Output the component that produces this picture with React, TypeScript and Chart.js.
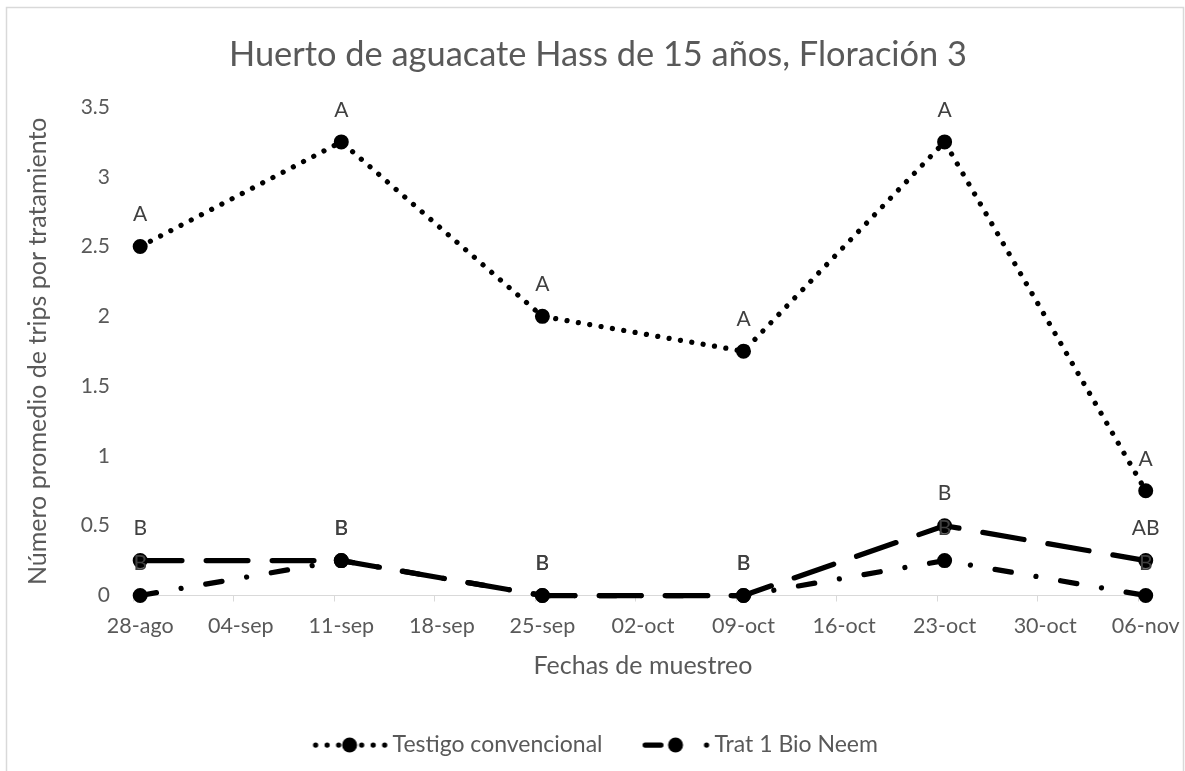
import React, { useEffect, useRef } from 'react';
import { Chart, registerables } from 'chart.js';

Chart.register(...registerables);

// ---------- data ----------
const chartTitle = 'Huerto de aguacate Hass de 15 años, Floración 3';
const xAxisTitle = 'Fechas de muestreo';
const yAxisTitle = 'Número promedio de trips por tratamiento';

const sampleDates = ['28-ago', '11-sep', '25-sep', '09-oct', '23-oct', '06-nov'];
const sampleDay = [0, 14, 28, 42, 56, 70]; // días desde el 28-ago
const xTickLabels = ['28-ago', '04-sep', '11-sep', '18-sep', '25-sep', '02-oct', '09-oct', '16-oct', '23-oct', '30-oct', '06-nov'];
const tickStepDays = 7;

const testigoName = 'Testigo convencional';
const testigoValues = [2.5, 3.25, 2, 1.75, 3.25, 0.75];
const testigoLetters = ['A', 'A', 'A', 'A', 'A', 'A'];

const bioNeemName = 'Trat 1 Bio Neem';
const bioNeemValues = [0, 0.25, 0, 0, 0.25, 0];
const bioNeemLetters = ['B', 'B', 'B', 'B', 'B', 'B'];

const trat2Name = 'Trat 2';
const trat2Values = [0.25, 0.25, 0, 0, 0.5, 0.25];
const trat2Letters = ['B', 'B', 'B', 'B', 'B', 'AB'];

const yMin = 0;
const yMax = 3.5;
const yStep = 0.5;

// ---------- style ----------
const FONT = 'Lato, "Open Sans", sans-serif';
const TEXT = '#595959';
const AXIS = '#d9d9d9';
const LW = 5.25;
const DOT = [0.01, 11.5];
const LONG_DASH = [41.75, 24.25];
const DASH_DOT = [16.5, 25, 0.01, 25];

function toPoints(values: number[]) {
  return sampleDay.map((d, i) => ({ x: d, y: values[i] }));
}

function makeLegendImage(kind: 'dot' | 'dashdot') {
  const c = document.createElement('canvas');
  c.width = 80;
  c.height = 24;
  const ctx = c.getContext('2d')!;
  ctx.strokeStyle = '#000';
  ctx.fillStyle = '#000';
  ctx.lineWidth = LW;
  ctx.lineCap = 'round';
  if (kind === 'dot') {
    ctx.setLineDash(DOT);
    ctx.beginPath();
    ctx.moveTo(6, 12);
    ctx.lineTo(76, 12);
    ctx.stroke();
    ctx.setLineDash([]);
    ctx.beginPath();
    ctx.arc(40, 12, 7.5, 0, Math.PI * 2);
    ctx.fill();
  } else {
    ctx.beginPath();
    ctx.moveTo(13.6, 12);
    ctx.lineTo(29.4, 12);
    ctx.stroke();
    ctx.beginPath();
    ctx.arc(44, 12, 7.5, 0, Math.PI * 2);
    ctx.fill();
    ctx.beginPath();
    ctx.arc(75, 12, LW / 2, 0, Math.PI * 2);
    ctx.fill();
  }
  return c;
}

const pagePlugin = {
  id: 'pageBox',
  beforeDraw(chart: any) {
    const ctx = chart.ctx;
    ctx.save();
    ctx.fillStyle = '#ffffff';
    ctx.fillRect(0, 0, chart.width, chart.height);
    ctx.strokeStyle = AXIS;
    ctx.lineWidth = 1.5;
    ctx.strokeRect(6.5, 7.5, 1177, 800);
    ctx.restore();
  },
};

const letterPlugin = {
  id: 'letters',
  afterDatasetsDraw(chart: any) {
    const ctx = chart.ctx;
    ctx.save();
    ctx.font = `21px ${FONT}`;
    ctx.fillStyle = '#404040';
    ctx.textAlign = 'center';
    ctx.textBaseline = 'middle';
    chart.data.datasets.forEach((ds: any, di: number) => {
      const meta = chart.getDatasetMeta(di);
      meta.data.forEach((el: any, i: number) => {
        ctx.fillText(ds.letters[i], el.x, el.y - 32);
      });
    });
    ctx.restore();
  },
};

export default function App() {
  const ref = useRef<HTMLCanvasElement>(null);

  useEffect(() => {
    if (!ref.current) return;
    const common = {
      borderColor: '#000',
      backgroundColor: '#000',
      borderWidth: LW,
      borderCapStyle: 'round',
      borderJoinStyle: 'round',
      pointRadius: 6,
      pointHoverRadius: 6,
      pointBorderWidth: 3,
      pointBackgroundColor: '#000',
      pointBorderColor: '#000',
      tension: 0,
      clip: false,
    };
    const imgDot = makeLegendImage('dot');
    const imgDashDot = makeLegendImage('dashdot');

    const chart = new Chart(ref.current, {
      type: 'line',
      data: {
        datasets: [
          { ...common, label: testigoName, data: toPoints(testigoValues), borderDash: DOT, letters: testigoLetters },
          { ...common, label: bioNeemName, data: toPoints(bioNeemValues), borderDash: DASH_DOT, letters: bioNeemLetters },
          { ...common, label: trat2Name, data: toPoints(trat2Values), borderDash: LONG_DASH, letters: trat2Letters },
        ] as any,
      },
      options: {
        animation: false,
        responsive: false,
        maintainAspectRatio: false,
        events: [],
        layout: { padding: { top: 0, left: 11, right: 0, bottom: 4.5 } },
        plugins: {
          title: {
            display: true,
            text: chartTitle,
            color: TEXT,
            font: { family: FONT, size: 34.4, weight: 'normal' },
            padding: { top: 34.36, bottom: 31.36 },
          },
          legend: {
            display: true,
            position: 'bottom',
            labels: {
              usePointStyle: true,
              pointStyleWidth: 63,
              padding: 37.5,
              color: TEXT,
              font: { family: FONT, size: 23 },
              generateLabels: () => [
                { text: testigoName, pointStyle: imgDot, fillStyle: '#000', strokeStyle: '#000', lineWidth: 0, hidden: false, datasetIndex: 0, fontColor: TEXT },
                { text: bioNeemName, pointStyle: imgDashDot, fillStyle: '#000', strokeStyle: '#000', lineWidth: 0, hidden: false, datasetIndex: 1, fontColor: TEXT },
              ],
            },
          },
          tooltip: { enabled: false },
        },
        scales: {
          x: {
            type: 'linear',
            min: sampleDay[0] - 0.5,
            max: sampleDay[sampleDay.length - 1] + 0.5,
            afterBuildTicks: (s: any) => {
              s.ticks = xTickLabels.map((_, i) => ({ value: sampleDay[0] - 0.5 + i * tickStepDays }));
            },
            afterFit: (s: any) => {
              s.height = 100.5;
            },
            ticks: {
              callback: (_v: any, i: number) => xTickLabels[i],
              labelOffset: 7.2,
              autoSkip: false,
              maxRotation: 0,
              minRotation: 0,
              color: TEXT,
              font: { family: FONT, size: 21.5 },
              padding: 12.1,
            },
            grid: { display: true, drawOnChartArea: false, drawTicks: true, tickLength: 6, color: AXIS, lineWidth: 1 },
            border: { display: true, color: AXIS, width: 1, dash: [1008, 3000] },
            title: {
              display: true,
              text: xAxisTitle,
              color: TEXT,
              font: { family: FONT, size: 25 },
              padding: { top: 0, bottom: 15.5 },
            },
          },
          y: {
            min: yMin,
            max: yMax,
            afterFit: (s: any) => {
              s.width = 122;
            },
            ticks: {
              stepSize: yStep,
              color: TEXT,
              font: { family: FONT, size: 21 },
              padding: 23,
              callback: (v: any) => String(v),
            },
            grid: { display: false, drawTicks: false },
            border: { display: false },
            title: {
              display: true,
              text: yAxisTitle,
              color: TEXT,
              font: { family: FONT, size: 25 },
              padding: { top: 12, bottom: 0 },
            },
          },
          yRight: {
            type: 'linear',
            position: 'right',
            display: true,
            afterFit: (s: any) => {
              s.width = 29;
            },
            ticks: { display: false },
            grid: { display: false, drawTicks: false },
            border: { display: false },
          },
        },
      } as any,
      plugins: [pagePlugin, letterPlugin],
    });
    return () => chart.destroy();
  }, []);

  return (
    <div style={{ position: 'absolute', left: 0, top: 0, width: 1185, height: 771 }}>
      <canvas ref={ref} width={1185} height={771} style={{ display: 'block' }} />
    </div>
  );
}
